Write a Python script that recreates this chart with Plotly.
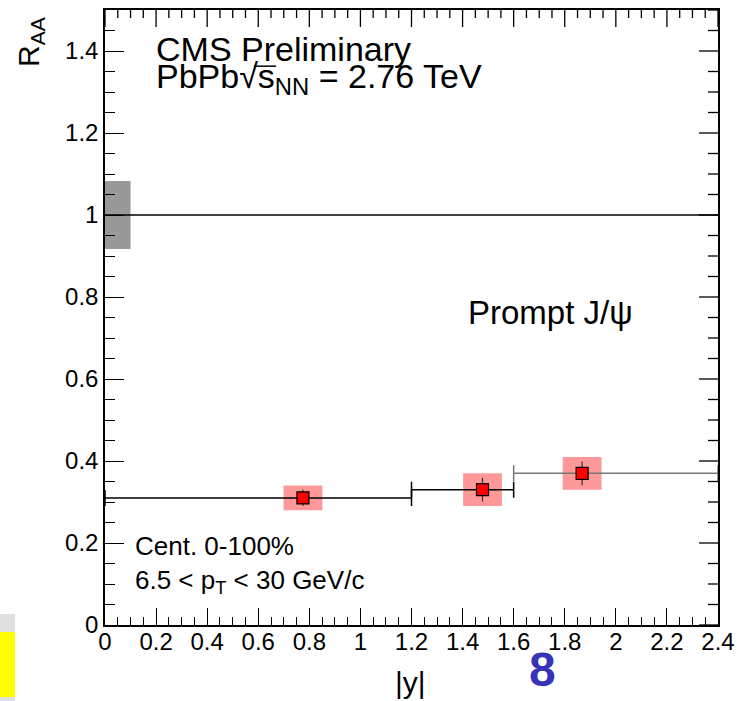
import numpy as np
import plotly.graph_objects as go

# ---- data ----
y_center = [0.775, 1.478, 1.868]          # |y| bin centres
y_low = [0.0, 1.2, 1.6]
y_high = [1.2, 1.6, 2.4]
raa = [0.31, 0.33, 0.37]
stat_err = [0.02, 0.029, 0.029]
syst_err = [0.03, 0.04, 0.04]
global_unc = 0.083
ref_x = [0.0, 2.4]
ref_y = [1.0, 1.0]

x_tickvals = [0, 0.2, 0.4, 0.6, 0.8, 1.0, 1.2, 1.4, 1.6, 1.8, 2.0, 2.2, 2.4]
x_ticktext = ["0", "0.2", "0.4", "0.6", "0.8", "1", "1.2", "1.4", "1.6", "1.8", "2", "2.2", "2.4"]
y_tickvals = [0, 0.2, 0.4, 0.6, 0.8, 1.0, 1.2, 1.4]
y_ticktext = ["0", "0.2", "0.4", "0.6", "0.8", "1", "1.2", "1.4"]

FONT = "Liberation Sans, Arial, Helvetica, sans-serif"
X_RANGE = [0, 2.4]
Y_RANGE = [0, 1.5]
box_half_w = 0.076
bar_colors = ["black", "black", "#777777"]

fig = go.Figure()

shapes = []
# systematic boxes
for xc, yc, s in zip(y_center, raa, syst_err):
    shapes.append(dict(type="rect", xref="x", yref="y", x0=xc - box_half_w, x1=xc + box_half_w,
                       y0=yc - s, y1=yc + s, fillcolor="#FF9999", line=dict(width=0), layer="below"))
# global uncertainty box
shapes.append(dict(type="rect", xref="x", yref="y", x0=0, x1=0.1, y0=1 - global_unc, y1=1 + global_unc,
                   fillcolor="#999999", line=dict(width=0), layer="below"))
# corner boxes
shapes.append(dict(type="rect", xref="paper", yref="paper", x0=-0.1713, x1=-0.1468, y0=-0.1236, y1=0.0179,
                   fillcolor="#E0E0E0", line=dict(width=0), layer="above"))
shapes.append(dict(type="rect", xref="paper", yref="paper", x0=-0.1713, x1=-0.1468, y0=-0.117, y1=-0.0114,
                   fillcolor="#FFFF00", line=dict(width=0), layer="above"))
# radical overline over "s"
shapes.append(dict(type="line", xref="x", yref="y", x0=0.583, x1=0.670, y0=1.363, y1=1.363,
                   line=dict(color="black", width=1.5)))

# mirrored ticks on the top and right frame edges (ROOT style)
x_minor = np.round(np.arange(X_RANGE[0], X_RANGE[1] + 1e-4, 0.05), 2)
y_minor = np.round(np.arange(Y_RANGE[0], Y_RANGE[1] + 1e-4, 0.05), 2)
for v in x_minor:
    major = any(abs(v - t) < 1e-6 for t in x_tickvals)
    shapes.append(dict(type="line", xref="x", yref="y", ysizemode="pixel", yanchor=Y_RANGE[1],
                       x0=v, x1=v, y0=0, y1=-(17 if major else 8), line=dict(color="black", width=1.3)))
for v in y_minor:
    major = any(abs(v - t) < 1e-6 for t in y_tickvals)
    shapes.append(dict(type="line", yref="y", xref="x", xsizemode="pixel", xanchor=X_RANGE[1],
                       y0=v, y1=v, x0=0, x1=-(19 if major else 10), line=dict(color="black", width=1.3)))

for i in range(len(y_center)):
    fig.add_trace(go.Scatter(
        x=[y_center[i]], y=[raa[i]], mode="markers",
        marker=dict(symbol="square", size=12, color="red", line=dict(color="black", width=1.2)),
        error_x=dict(type="data", symmetric=False, array=[y_high[i] - y_center[i]],
                     arrayminus=[y_center[i] - y_low[i]], color=bar_colors[i], thickness=1.5, width=8),
        error_y=dict(type="data", array=[stat_err[i]], color="#333333", thickness=1.2, width=0),
        showlegend=False))

# reference line at R_AA = 1
fig.add_trace(go.Scatter(x=ref_x, y=ref_y, mode="lines", line=dict(color="black", width=1.3),
                         showlegend=False, hoverinfo="skip"))

ann = []
def add_text(text, x, y, size, xref="x", yref="y", xanchor="left", yanchor="middle", **kw):
    ann.append(dict(text=text, x=x, y=y, xref=xref, yref=yref, xanchor=xanchor, yanchor=yanchor,
                    showarrow=False, font=dict(family=FONT, size=size, color=kw.pop("color", "black")), **kw))

add_text("CMS Preliminary", 0.19, 1.405, 34)
add_text("PbPb√s<sub>NN</sub> = 2.76 TeV", 0.19, 1.334, 34)
add_text("Prompt J/ψ", 1.415, 0.763, 33)
add_text("Cent. 0-100%", 0.11, 0.193, 26)
add_text("6.5 < p<sub>T</sub> < 30 GeV/c", 0.11, 0.107, 26)
add_text("R<sub>AA</sub>", -0.1207, 0.992, 30, xref="paper", yref="paper", xanchor="center", yanchor="top",
         textangle=-90)
add_text("|y|", 0.499, -0.094, 30, xref="paper", yref="paper", xanchor="center")
add_text("<b>8</b>", 0.713, -0.073, 48, xref="paper", yref="paper", xanchor="center", color="#3535B5")

axis_common = dict(showgrid=False, zeroline=False, showline=True, linecolor="black", linewidth=1.5,
                   mirror=True, ticks="inside", tickcolor="black", tickwidth=1.3, automargin=False,
                   tickfont=dict(family=FONT, size=24, color="black"))

xminor = dict(dtick=0.05, tick0=0, ticklen=8, ticks="inside", tickcolor="black", tickwidth=1.3)
yminor = dict(dtick=0.05, tick0=0, ticklen=10, ticks="inside", tickcolor="black", tickwidth=1.3)

fig.update_layout(
    width=737, height=701,
    margin=dict(l=105, r=19, t=10, b=76),
    paper_bgcolor="white", plot_bgcolor="white",
    xaxis=dict(range=X_RANGE, tickvals=x_tickvals, ticktext=x_ticktext, ticklen=17,
               ticklabelstandoff=-6, minor=xminor, **axis_common),
    yaxis=dict(range=Y_RANGE, tickvals=y_tickvals, ticktext=y_ticktext, ticklen=19,
               minor=yminor, **axis_common),
    shapes=shapes, annotations=ann,
)

fig.write_html("out.html")
